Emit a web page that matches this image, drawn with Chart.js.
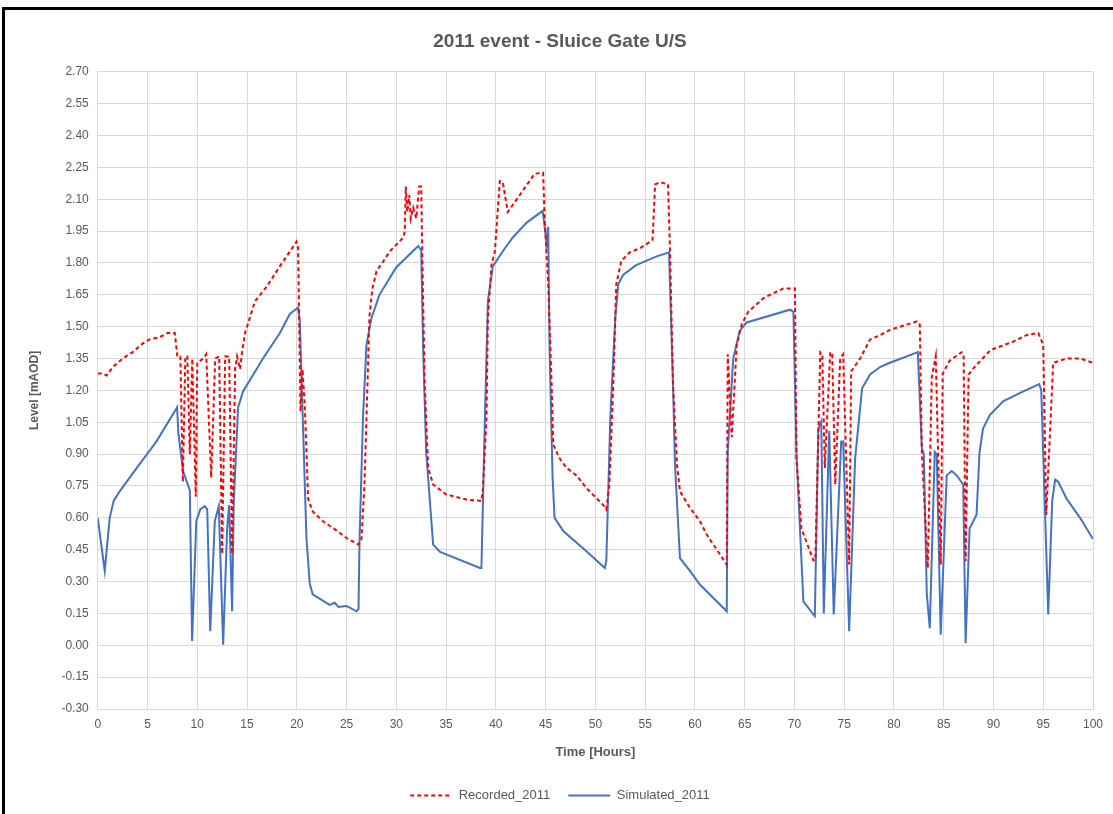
<!DOCTYPE html>
<html>
<head>
<meta charset="utf-8">
<script src="https://cdn.jsdelivr.net/npm/chart.js@4.4.1/dist/chart.umd.min.js"></script>
<style>
  html, body { margin: 0; padding: 0; background: #fff; }
  #wrap { position: relative; width: 1113px; height: 814px; overflow: hidden; }
  #frame { position: absolute; left: 2px; top: 7px; width: 1200px; height: 900px; border-left: 3px solid #000; border-top: 3px solid #000; box-sizing: border-box; pointer-events: none; }
  canvas { position: absolute; left: 0; top: 0; }
</style>
</head>
<body>
<div id="wrap">
  <canvas id="c" width="1113" height="814"></canvas>
  <div id="frame"></div>
</div>
<script>
// ---- Data ----
const recordedHours = [0,0.5,0.9,1.5,2.5,3.5,4.5,5.2,6.2,7.0,7.74,
  8.0,8.3,8.55,8.8,9.0,9.25,9.5,9.85,10.0,10.6,10.9,11.4,11.8,12.2,12.5,12.8,13.2,13.5,13.8,14.0,14.3,14.5,14.8,
  15.8,17.0,18.3,19.97,20.13,20.37,20.57,20.8,21.14,21.6,22.6,24.0,25.0,26.2,26.5,26.8,27.1,27.3,27.6,28.0,29.35,30.7,30.85,30.95,31.1,31.3,31.45,31.7,32.0,32.3,32.5,32.6,32.85,33.2,33.7,35.0,37.05,38.55,
  38.7,39.06,39.2,39.56,39.9,40.4,40.7,41.2,42.4,43.9,44.75,44.9,45.26,45.6,45.77,46.4,47.1,48.1,49.1,50.8,51.1,
  51.4,51.8,52.1,52.6,53.45,54.5,55.5,55.75,56.0,56.5,57.3,57.5,57.8,58.2,58.5,59.5,60.5,61.2,63.2,
  63.3,63.7,64.2,64.7,65.35,66.9,68.9,70.05,70.2,70.7,71.9,72.1,72.6,72.8,73.05,73.6,73.8,74.1,74.6,74.9,75.5,75.7,76.6,77.6,78.6,79.6,82.3,82.6,
  82.8,83.4,83.8,84.2,84.7,84.9,85.6,86.8,87.0,87.2,87.5,88.0,89.7,92.0,93.3,94.5,95.0,95.3,96.0,97.35,98.7,100];
const recordedLevel = [1.28,1.28,1.27,1.31,1.35,1.38,1.42,1.44,1.45,1.47,1.47,
  1.36,1.36,0.77,1.36,1.36,0.90,1.35,0.70,1.33,1.35,1.37,0.79,1.35,1.36,0.43,1.36,1.36,0.43,1.30,1.36,1.30,1.38,1.47,
  1.62,1.69,1.785,1.90,1.87,1.10,1.30,1.13,0.69,0.63,0.585,0.54,0.505,0.474,0.50,0.76,1.23,1.55,1.68,1.76,1.855,1.92,1.95,2.16,2.04,2.12,2.01,2.06,2.01,2.16,2.16,1.855,1.23,0.835,0.757,0.71,0.686,0.68,
  0.74,1.07,1.54,1.79,1.855,2.185,2.18,2.04,2.12,2.22,2.225,2.01,1.70,1.23,0.945,0.88,0.835,0.80,0.74,0.66,0.64,
  0.757,1.23,1.70,1.81,1.85,1.87,1.90,1.91,2.17,2.18,2.17,1.855,1.23,0.85,0.725,0.647,0.585,0.52,0.38,
  1.37,0.98,1.415,1.51,1.57,1.635,1.68,1.68,0.88,0.55,0.40,0.40,1.38,1.37,0.835,1.38,1.37,0.757,1.35,1.37,0.38,1.29,1.35,1.44,1.46,1.485,1.525,1.51,
  0.91,0.364,1.26,1.36,0.38,1.28,1.34,1.38,1.36,0.396,1.275,1.305,1.39,1.43,1.46,1.47,1.415,0.615,1.33,1.35,1.35,1.33];

const simulatedHours = [0,0.7,1.2,1.6,2.2,4.0,5.9,7.97,8.1,8.57,9.25,9.48,9.9,10.3,10.75,11.0,11.3,11.76,12.16,12.6,13.0,13.2,13.5,13.67,14.1,14.6,
  16.6,18.3,19.3,20.13,20.3,20.6,20.97,21.3,21.6,23.3,23.8,24.2,25.0,26.0,26.2,26.3,26.65,27.0,27.5,28.3,30.0,32.2,32.5,32.7,33.0,33.7,34.4,38.4,38.55,
  38.9,39.2,39.7,40.7,41.7,43.1,44.7,44.8,45.1,45.26,45.4,45.7,45.9,46.8,49.1,50.95,51.1,51.5,52.0,52.3,52.8,54.1,56.1,57.4,57.8,58.0,58.5,59.5,60.5,63.2,
  63.3,63.85,64.5,65.2,69.55,69.9,70.2,70.9,71.9,72.05,72.4,72.7,72.95,73.5,73.95,74.7,74.9,75.5,76.1,76.8,77.6,78.6,79.6,82.4,
  82.8,83.0,83.3,83.6,84.1,84.3,84.7,85.3,85.8,86.3,86.96,87.2,87.6,88.3,88.6,88.95,89.65,91.0,93.0,94.6,94.8,95.2,95.5,95.9,96.2,96.5,97.35,98.7,100];
const simulatedLevel = [0.60,0.35,0.60,0.68,0.725,0.84,0.96,1.12,1.00,0.82,0.73,0.02,0.584,0.64,0.655,0.64,0.066,0.584,0.655,0.003,0.55,0.66,0.16,0.68,1.12,1.195,
  1.35,1.47,1.56,1.59,1.53,1.07,0.505,0.29,0.24,0.19,0.20,0.18,0.185,0.16,0.17,0.49,1.07,1.415,1.54,1.65,1.78,1.88,1.86,1.385,0.91,0.474,0.44,0.364,0.364,
  1.07,1.62,1.785,1.855,1.92,1.99,2.045,2.01,1.89,1.97,1.385,0.79,0.60,0.537,0.443,0.364,0.40,1.07,1.54,1.70,1.745,1.79,1.83,1.85,1.23,0.85,0.41,0.35,0.286,0.16,
  0.91,1.35,1.48,1.52,1.58,1.57,0.91,0.207,0.145,0.137,1.02,1.055,0.15,1.01,0.145,0.96,0.96,0.066,0.88,1.21,1.275,1.31,1.33,1.38,
  0.93,0.90,0.24,0.08,0.91,0.90,0.05,0.80,0.82,0.80,0.757,0.01,0.55,0.615,0.91,1.02,1.085,1.15,1.195,1.23,1.20,0.60,0.145,0.68,0.78,0.77,0.69,0.60,0.50];

const xTickStart = 0, xTickEnd = 100, xTickStep = 5;
const yTickStart = -0.30, yTickEnd = 2.70, yTickStep = 0.15;

const chartTitle = '2011 event - Sluice Gate U/S';
const xTitle = 'Time [Hours]';
const yTitle = 'Level [mAOD]';
const seriesNames = ['Recorded_2011', 'Simulated_2011'];

// ---- Build chart ----
const toPts = (xs, ys) => xs.map((x, i) => ({x: x, y: ys[i]}));
const FONT = '"Liberation Sans", Arial, sans-serif';
const GRID = '#d9d9d9';
const TXT = '#595959';

new Chart(document.getElementById('c'), {
  type: 'line',
  data: {
    datasets: [
      {
        label: seriesNames[0],
        data: toPts(recordedHours, recordedLevel),
        borderColor: '#ff0000',
        backgroundColor: '#ff0000',
        borderWidth: 2,
        borderDash: [4, 3],
        pointRadius: 0,
        pointStyle: 'line',
        tension: 0,
        fill: false
      },
      {
        label: seriesNames[1],
        data: toPts(simulatedHours, simulatedLevel),
        borderColor: '#4472c4',
        backgroundColor: '#4472c4',
        borderWidth: 2,
        pointRadius: 0,
        pointStyle: 'line',
        tension: 0,
        fill: false
      }
    ]
  },
  options: {
    responsive: false,
    animation: false,
    events: [],
    layout: { padding: { left: 27, right: 20, top: 0, bottom: 2 } },
    plugins: {
      title: {
        display: true,
        text: chartTitle,
        color: TXT,
        font: { family: FONT, size: 19, weight: 'bold' },
        padding: { top: 30, bottom: 19 }
      },
      legend: {
        position: 'bottom',
        labels: {
          color: TXT,
          font: { family: FONT, size: 13 },
          usePointStyle: true,
          pointStyle: 'line',
          pointStyleWidth: 42,
          boxWidth: 42,
          boxHeight: 10,
          padding: 18,
          generateLabels: function (chart) {
            const items = Chart.defaults.plugins.legend.labels.generateLabels(chart);
            items.forEach(it => {
              const ds = chart.data.datasets[it.datasetIndex];
              it.lineDash = ds.borderDash || [];
              it.lineWidth = 2;
              it.strokeStyle = ds.borderColor;
            });
            return items;
          }
        }
      },
      tooltip: { enabled: false }
    },
    scales: {
      x: {
        type: 'linear',
        min: xTickStart,
        max: xTickEnd,
        ticks: {
          stepSize: xTickStep,
          color: TXT,
          font: { family: FONT, size: 12 },
          padding: 8,
          maxRotation: 0,
          autoSkip: false
        },
        grid: { color: GRID, lineWidth: 1, drawTicks: false },
        border: { color: GRID },
        title: {
          display: true,
          text: xTitle,
          color: TXT,
          font: { family: FONT, size: 13, weight: 'bold' },
          padding: { top: 5, bottom: 11 }
        }
      },
      y: {
        type: 'linear',
        min: yTickStart,
        max: yTickEnd,
        ticks: {
          stepSize: yTickStep,
          color: TXT,
          font: { family: FONT, size: 12 },
          padding: 9,
          autoSkip: false,
          callback: v => v.toFixed(2)
        },
        grid: { color: GRID, lineWidth: 1, drawTicks: false },
        border: { color: GRID },
        title: {
          display: true,
          text: yTitle,
          color: TXT,
          font: { family: FONT, size: 12, weight: 'bold' },
          padding: { top: 0, bottom: 11 }
        }
      }
    }
  }
});
</script>
</body>
</html>
